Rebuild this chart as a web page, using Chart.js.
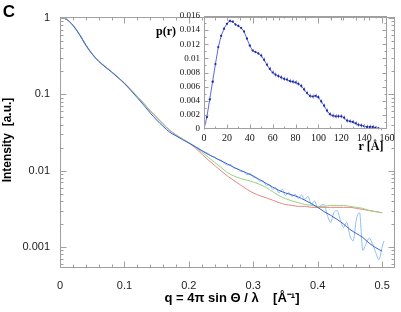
<!DOCTYPE html>
<html>
<head>
<meta charset="utf-8">
<script src="https://cdn.jsdelivr.net/npm/chart.js@4.4.1/dist/chart.umd.min.js"></script>
<style>
html, body { margin: 0; padding: 0; background: #fff; }
#wrap { position: relative; width: 401px; height: 312px; }
#main { position: absolute; left: 0; top: 0; }
#inset { position: absolute; left: 150px; top: 0; }
</style>
</head>
<body>
<div id="wrap">
<canvas id="main" width="401" height="312"></canvas>
<canvas id="inset" width="251" height="160"></canvas>
</div>
<script>
"use strict";

// ---- main scattering curve ----
const qTicks = [0, 0.1, 0.2, 0.3, 0.4, 0.5];
const iTicks = [0.001, 0.01, 0.1, 1];

const qFit = [0, 0.01, 0.02, 0.03, 0.04, 0.05, 0.06, 0.07, 0.08, 0.09,
    0.10, 0.11, 0.12, 0.13, 0.14, 0.15, 0.16, 0.17, 0.18, 0.19,
    0.20, 0.21, 0.22, 0.23, 0.24, 0.25, 0.26, 0.27, 0.28, 0.29,
    0.30, 0.31, 0.32, 0.33, 0.34, 0.35, 0.36, 0.37, 0.38, 0.39,
    0.40, 0.41, 0.42, 0.43, 0.44, 0.45, 0.46, 0.47, 0.48, 0.49, 0.50];

const blueFit = [1.0, 0.96, 0.80, 0.61, 0.44, 0.335, 0.27, 0.228, 0.195, 0.165,
    0.138, 0.112, 0.09, 0.072, 0.057, 0.046, 0.038, 0.032, 0.0285, 0.0255,
    0.023, 0.0205, 0.0182, 0.0163, 0.0148, 0.0134, 0.0122, 0.011, 0.0101, 0.0093,
    0.0085, 0.0076, 0.0068, 0.0061, 0.0055, 0.0051, 0.0048, 0.0045, 0.0041, 0.0037,
    0.0033, 0.0029, 0.0026, 0.0023, 0.002, 0.0017, 0.0015, 0.00133, 0.00112, 0.00098, 0.00088];

const greenFit = [1.0, 0.96, 0.80, 0.61, 0.44, 0.335, 0.272, 0.23, 0.197, 0.167,
    0.14, 0.115, 0.094, 0.076, 0.061, 0.05, 0.041, 0.034, 0.0295, 0.026,
    0.023, 0.0203, 0.0175, 0.015, 0.0128, 0.011, 0.0094, 0.0085, 0.0079, 0.0075,
    0.0071, 0.0066, 0.006, 0.0053, 0.0047, 0.0043, 0.004, 0.0038, 0.0036, 0.0035,
    0.0034, 0.0034, 0.0035, 0.0035, 0.0035, 0.0034, 0.0033, 0.0032, 0.003, 0.0029, 0.0028];

const redFit = [1.0, 0.96, 0.80, 0.61, 0.44, 0.335, 0.272, 0.23, 0.197, 0.167,
    0.14, 0.115, 0.094, 0.076, 0.061, 0.05, 0.041, 0.034, 0.0295, 0.026,
    0.023, 0.0198, 0.0165, 0.0138, 0.0117, 0.0099, 0.0085, 0.0074, 0.0065, 0.0057,
    0.0051, 0.0047, 0.0044, 0.0041, 0.0038, 0.0036, 0.0035, 0.0034, 0.0034, 0.0033,
    0.0033, 0.0033, 0.0033, 0.0033, 0.0033, 0.0033, 0.0032, 0.0031, 0.003, 0.0029, 0.0028];

// measured data (noisy)
const qData = [0.005, 0.01, 0.02, 0.03, 0.04, 0.05, 0.06, 0.07, 0.08, 0.09,
    0.10, 0.11, 0.12, 0.13, 0.14, 0.15, 0.16, 0.17, 0.18, 0.19,
    0.20, 0.205, 0.21, 0.215, 0.22, 0.225, 0.23, 0.235, 0.24, 0.245,
    0.25, 0.255, 0.26, 0.265, 0.27, 0.275, 0.28, 0.285, 0.29, 0.295,
    0.30, 0.305, 0.31, 0.315, 0.32, 0.325, 0.33, 0.335, 0.34, 0.345,
    0.35, 0.355, 0.36, 0.365, 0.37, 0.375, 0.38, 0.385, 0.39, 0.395,
    0.40, 0.405, 0.41, 0.415, 0.42, 0.425, 0.43, 0.435, 0.44, 0.445,
    0.45, 0.455, 0.46, 0.465, 0.47, 0.475, 0.48, 0.485, 0.49, 0.495,
    0.50, 0.503];
const iData = [0.99, 0.96, 0.81, 0.62, 0.45, 0.34, 0.275, 0.232, 0.198, 0.168,
    0.14, 0.114, 0.093, 0.075, 0.06, 0.049, 0.04, 0.0335, 0.029, 0.026,
    0.0232, 0.022, 0.0207, 0.0196, 0.0185, 0.0175, 0.0168, 0.0155, 0.0152, 0.014,
    0.0137, 0.0125, 0.0118, 0.012, 0.0108, 0.0106, 0.0098, 0.0097, 0.0088, 0.0092,
    0.0082, 0.008, 0.0073, 0.0074, 0.0064, 0.0066, 0.0057, 0.006, 0.0051, 0.0057,
    0.0047, 0.0052, 0.0046, 0.0049, 0.0043, 0.0048, 0.0042, 0.0046, 0.0036, 0.004,
    0.0033, 0.0035, 0.0036, 0.0026, 0.0021, 0.0028, 0.003, 0.0023, 0.0018, 0.0021,
    0.0014, 0.0012, 0.0023, 0.0028, 0.0009, 0.0011, 0.0013, 0.0011, 0.00085, 0.00068,
    0.001, 0.0012];

// ---- inset p(r) ----
const rTicks = [0, 20, 40, 60, 80, 100, 120, 140, 160];
const pTicks = [0, 0.002, 0.004, 0.006, 0.008, 0.01, 0.012, 0.014, 0.016];

const rVals = [0, 2.5, 5, 7.5, 10, 12.5, 15, 17.5, 20, 22.5,
    25, 27.5, 30, 32.5, 35, 37.5, 40, 42.5, 45, 47.5,
    50, 52.5, 55, 57.5, 60, 62.5, 65, 67.5, 70, 72.5,
    75, 77.5, 80, 82.5, 85, 87.5, 90, 92.5, 95, 97.5,
    100, 102.5, 105, 107.5, 110, 112.5, 115, 117.5, 120, 122.5,
    125, 127.5, 130, 132.5, 135, 137.5, 140, 142.5, 145, 147.5,
    150, 152.5, 155];
const pVals = [0, 0.0017, 0.0042, 0.0067, 0.0092, 0.0116, 0.0132, 0.0142, 0.0149, 0.0153,
    0.0152, 0.0148, 0.0146, 0.0143, 0.0138, 0.0128, 0.0118, 0.0111, 0.0109, 0.0107,
    0.0104, 0.0098, 0.0091, 0.0085, 0.008, 0.0077, 0.0075, 0.0073, 0.0071, 0.007,
    0.0068, 0.0067, 0.0066, 0.0064, 0.0061, 0.0056, 0.0051, 0.0047, 0.0046, 0.0047,
    0.0045, 0.0039, 0.0033, 0.0026, 0.0021, 0.0019, 0.0018, 0.0018, 0.0018, 0.0016,
    0.0012, 0.0011, 0.001, 0.0008, 0.0006, 0.0005, 0.0004, 0.0003, 0.0003, 0.0003,
    0.0002, 0.0001, 0];
const pErr = [0.0001, 0.0002, 0.0002, 0.0002, 0.0002, 0.0002, 0.0002, 0.0002, 0.0002, 0.0002,
    0.0002, 0.0002, 0.0002, 0.0002, 0.0002, 0.0002, 0.0002, 0.0002, 0.0002, 0.0002,
    0.0003, 0.0003, 0.0003, 0.0003, 0.0003, 0.0003, 0.0003, 0.0003, 0.0003, 0.0003,
    0.0003, 0.0003, 0.0003, 0.0003, 0.0003, 0.0003, 0.0003, 0.0003, 0.0003, 0.0003,
    0.0003, 0.0003, 0.0003, 0.0003, 0.0003, 0.0003, 0.0003, 0.0003, 0.0003, 0.0003,
    0.0003, 0.0003, 0.0003, 0.0003, 0.0003, 0.0003, 0.0003, 0.0003, 0.0003, 0.0003,
    0.0002, 0.0002, 0.0002];

const toXY = (xs, ys) => xs.map((v, i) => ({x: v, y: ys[i]}));

// minor tick marks (no labels)
const qMinor = [];
for (let v = 0.02; v < 0.52; v += 0.02) qMinor.push(v);
const iMinor = [];
[0.0001, 0.001, 0.01, 0.1].forEach(d => {
    for (let k = 2; k <= 9; k++) iMinor.push(d * k);
});
const rMinor = [];
for (let v = 10; v < 160; v += 20) rMinor.push(v);
const pMinor = [];
for (let v = 0.001; v < 0.016; v += 0.002) pMinor.push(v);

// draws the box frame and inward ticks on all four sides
const frameTicks = {
    id: 'frameTicks',
    afterDatasetsDraw(chart, args, opts) {
        const {ctx, chartArea: a, scales: {x, y}} = chart;
        ctx.save();
        ctx.strokeStyle = opts.color;
        ctx.lineWidth = 1;
        const L = Math.round(a.left) + 0.5, R = Math.round(a.right) - 0.5;
        const T = Math.round(a.top) + 0.5, B = Math.round(a.bottom) - 0.5;
        ctx.strokeRect(L, T, R - L, B - T);
        ctx.beginPath();
        const xt = (vals, len) => vals.forEach(v => {
            const px = Math.round(x.getPixelForValue(v)) + 0.5;
            if (px < L || px > R) return;
            ctx.moveTo(px, B); ctx.lineTo(px, B - len);
            ctx.moveTo(px, T); ctx.lineTo(px, T + len);
        });
        const yt = (vals, len) => vals.forEach(v => {
            const py = Math.round(y.getPixelForValue(v)) + 0.5;
            if (py < T || py > B) return;
            ctx.moveTo(L, py); ctx.lineTo(L + len, py);
            ctx.moveTo(R, py); ctx.lineTo(R - len, py);
        });
        xt(opts.xMajor, opts.major); xt(opts.xMinor, opts.minor);
        yt(opts.yMajor, opts.major); yt(opts.yMinor, opts.minor);
        ctx.stroke();
        ctx.restore();
    }
};

// error bars for the inset
const errorBars = {
    id: 'errorBars',
    beforeDatasetsDraw(chart) {
        const {ctx, scales: {x, y}} = chart;
        ctx.save();
        ctx.strokeStyle = '#a3a3ee';
        ctx.lineWidth = 1;
        ctx.beginPath();
        rVals.forEach((r, i) => {
            const px = Math.round(x.getPixelForValue(r)) + 0.5;
            ctx.moveTo(px, y.getPixelForValue(pVals[i] - pErr[i]));
            ctx.lineTo(px, y.getPixelForValue(pVals[i] + pErr[i]));
        });
        ctx.stroke();
        ctx.restore();
    }
};

// free text labels (panel letter, axis titles)
const textLabels = {
    id: 'textLabels',
    afterDraw(chart, args, opts) {
        const ctx = chart.ctx;
        opts.items.forEach(t => {
            ctx.save();
            ctx.font = t.font;
            ctx.fillStyle = '#000';
            ctx.textAlign = 'center';
            ctx.textBaseline = 'middle';
            ctx.translate(t.x, t.y);
            if (t.rot) ctx.rotate(t.rot);
            ctx.fillText(t.text, 0, 0);
            ctx.restore();
        });
    }
};

const sansTick = {family: '"Liberation Sans", Arial, sans-serif', size: 11};
const serifTick = {family: '"Liberation Serif", "Times New Roman", serif', size: 9};

const lineSet = (label, xs, ys, color, order) => ({
    label: label,
    data: toXY(xs, ys),
    showLine: true,
    borderColor: color,
    borderWidth: 1,
    pointRadius: 0,
    cubicInterpolationMode: 'monotone',
    order: order
});

new Chart(document.getElementById('main'), {
    type: 'scatter',
    data: {
        datasets: [
            lineSet('data', qData, iData, '#8fbdf2', 4),
            lineSet('fit 3', qFit, redFit, '#e88585', 3),
            lineSet('fit 2', qFit, greenFit, '#98d27c', 2),
            lineSet('fit 1', qFit, blueFit, '#3d5fd8', 1)
        ]
    },
    options: {
        responsive: false,
        animation: false,
        devicePixelRatio: 1,
        layout: {padding: {top: 4, right: 6, left: 0, bottom: 0}},
        plugins: {
            legend: {display: false},
            tooltip: {enabled: false},
            frameTicks: {
                color: '#a0a0a0', major: 6, minor: 3,
                xMajor: qTicks, xMinor: qMinor, yMajor: iTicks, yMinor: iMinor
            },
            textLabels: {
                items: [
                    {text: 'C', x: 9, y: 12, font: 'bold 17px "Liberation Sans", Arial'},
                    {text: 'Intensity  [a.u.]', x: 8, y: 140, rot: -Math.PI / 2,
                        font: 'bold 12px "Liberation Sans", Arial'},
                    {text: 'q = 4\u03c0 sin \u0398 / \u03bb    [\u00c5\u207b\u00b9]', x: 232, y: 298,
                        font: 'bold 13px "Liberation Sans", Arial'}
                ]
            }
        },
        scales: {
            x: {
                type: 'linear', min: 0, max: 0.52,
                afterBuildTicks: s => { s.ticks = qTicks.map(v => ({value: v})); },
                afterFit: s => { s.height = 44; },
                grid: {display: false, drawTicks: false},
                border: {display: false},
                ticks: {padding: 11, font: sansTick, color: '#222',
                    callback: v => String(+v.toFixed(1))}
            },
            y: {
                type: 'logarithmic', min: 0.00053, max: 1.04,
                afterBuildTicks: s => { s.ticks = iTicks.map(v => ({value: v})); },
                afterFit: s => { s.width = 60; },
                grid: {display: false, drawTicks: false},
                border: {display: false},
                ticks: {padding: 10, font: sansTick, color: '#222',
                    callback: v => String(v)}
            }
        }
    },
    plugins: [frameTicks, textLabels]
});

new Chart(document.getElementById('inset'), {
    type: 'scatter',
    data: {
        datasets: [{
            label: 'p(r)',
            data: toXY(rVals, pVals),
            showLine: true,
            borderColor: '#5a6ae0',
            borderWidth: 1,
            pointRadius: 1.1,
            pointBorderWidth: 0,
            pointBackgroundColor: '#1c2a9c',
            tension: 0
        }]
    },
    options: {
        responsive: false,
        animation: false,
        devicePixelRatio: 1,
        layout: {padding: {top: 16, right: 14, left: 0, bottom: 0}},
        plugins: {
            legend: {display: false},
            tooltip: {enabled: false},
            frameTicks: {
                color: '#a0a0a0', major: 4, minor: 2,
                xMajor: rTicks, xMinor: rMinor, yMajor: pTicks, yMinor: pMinor
            },
            textLabels: {
                items: [
                    {text: 'p(r)', x: 16, y: 32, font: 'bold 12px "Liberation Serif", serif'},
                    {text: 'r [\u00c5]', x: 221, y: 147, font: 'bold 12px "Liberation Serif", serif'}
                ]
            }
        },
        scales: {
            x: {
                type: 'linear', min: 0, max: 160,
                afterBuildTicks: s => { s.ticks = rTicks.map(v => ({value: v})); },
                afterFit: s => { s.height = 31; },
                grid: {display: false, drawTicks: false},
                border: {display: false},
                ticks: {padding: 3, font: {family: serifTick.family, size: 10}, color: '#111',
                    maxRotation: 0, autoSkip: false}
            },
            y: {
                type: 'linear', min: 0, max: 0.016,
                afterBuildTicks: s => { s.ticks = pTicks.map(v => ({value: v})); },
                afterFit: s => { s.width = 54; },
                grid: {display: false, drawTicks: false},
                border: {display: false},
                ticks: {padding: 4, font: serifTick, color: '#111', autoSkip: false,
                    callback: v => String(+v.toFixed(3))}
            }
        }
    },
    plugins: [errorBars, frameTicks, textLabels]
});
</script>
</body>
</html>
